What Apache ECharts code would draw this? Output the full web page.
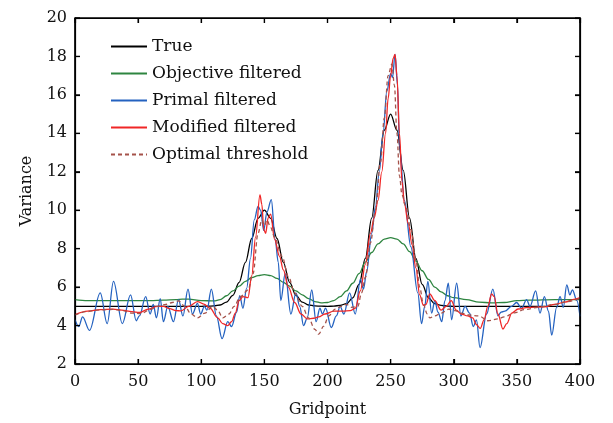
<!DOCTYPE html>
<html>
<head>
<meta charset="utf-8">
<script src="https://cdn.jsdelivr.net/npm/echarts@6/dist/echarts.min.js"></script>
<style>html,body{margin:0;padding:0;background:#fff}.c{width:613px;height:423px}</style>
</head>
<body>
<div class="c" id="main"></div>
<script>
// ---- data (gridpoint, variance) ----
const xTicks = [0, 50, 100, 150, 200, 250, 300, 350, 400];
const yTicks = [2, 4, 6, 8, 10, 12, 14, 16, 18, 20];
const seriesNames = ['True', 'Objective filtered', 'Primal filtered', 'Modified filtered', 'Optimal threshold'];

const trueX = [0,50,90,100,105,110,115,120,125,130,135,140,145,150,155,160,165,170,175,180,185,190,195,200,205,210,215,220,225,230,235,240,245,250,255,260,265,270,275,280,285,290,295,300,350,400];
const trueY = [5,5,5,5,5.01,5.02,5.07,5.22,5.57,6.25,7.29,8.53,9.58,10,9.58,8.53,7.29,6.25,5.57,5.22,5.07,5.02,5.01,5,5.01,5.05,5.14,5.44,6.14,7.5,9.59,12.07,14.16,15,14.16,12.07,9.59,7.5,6.14,5.44,5.14,5.05,5.01,5,5,5];

const objX = [0,10,20,40,60,70,80,85,90,100,110,115,120,125,130,135,140,145,150,155,160,165,170,175,180,185,190,195,200,205,210,215,220,225,230,235,240,245,250,255,260,265,270,275,280,285,290,295,300,310,320,330,340,350,360,380,400];
const objY = [5.35,5.3,5.3,5.3,5.3,5.32,5.35,5.38,5.37,5.3,5.28,5.35,5.55,5.8,6.05,6.3,6.5,6.6,6.65,6.6,6.45,6.25,6.05,5.8,5.6,5.4,5.25,5.18,5.2,5.3,5.5,5.8,6.2,6.7,7.3,7.8,8.25,8.5,8.57,8.5,8.25,7.85,7.35,6.85,6.4,6.0,5.75,5.55,5.45,5.35,5.22,5.18,5.2,5.3,5.32,5.35,5.35];

const primalX = [0,3,6,11.5,20,25.5,30.5,37.5,44,48.5,51,56,59.5,62,64.5,67.5,70,73.5,78,82,85.5,89.5,93,97,99.5,102.5,104.5,108,112,116.5,121,124,128,130.5,133,136,139,142,145,147,149.5,152,155.5,158.5,161,163,166.5,171,175,178,181,184,187.5,191,194,196,198.5,203,207,210,213,217.5,222,226,228.5,231,235,238,241,244,247,250,251.5,253.5,255.5,257,261,266,271.5,274.5,277,279.5,282.5,285,287.5,290.5,293,295.7,298.3,302.3,305.7,309,312.5,315.5,318,320.8,326,331,335,337.5,340.5,345.8,349.8,353.7,357.7,360.4,364.9,368.3,371.8,375,377.6,381.5,384.2,386.8,389.5,392,394,397.5,400];
const primalY = [4.3,3.95,4.45,3.75,5.7,4.1,6.3,4.1,5.6,4.25,4.5,5.5,4.6,5.1,4.4,5.4,4.2,5.0,4.2,5.35,4.5,5.9,4.6,5.15,4.6,5.0,4.8,5.9,4.5,3.32,4.2,3.95,4.7,5.55,4.9,5.95,7.5,9.5,10.2,10.0,8.95,9.9,10.55,8.5,7.3,5.3,6.7,4.6,5.7,5.0,4.0,4.4,5.85,4.2,4.9,4.6,4.9,3.9,4.5,5.0,4.6,5.7,4.6,6.4,5.9,6.8,8.8,10.2,12.0,14.0,16.2,17.1,16.9,18.1,16.5,13.3,10.5,8.1,5.7,4.1,5.0,6.3,4.65,5.3,4.7,4.2,5.3,6.2,4.3,6.2,4.5,5.0,4.65,3.95,4.3,2.85,4.6,5.9,4.5,4.7,4.75,5.0,5.2,4.9,5.35,5.0,5.8,4.65,5.5,4.75,3.5,4.95,5.5,4.95,6.12,5.6,5.86,5.3,4.48];

const modX = [0,10,20,30,37,45,51,58,65,70,75,80,84,90,97,102,107,113,117,121,124,127,130,133,137,140,143,146.5,148,149.5,151,153,155,158,162,165,169,174,179,184,189,193,198,205,212,218,222,226,230,234,237,240,243,246,248,250,252,253.5,255,257,259,261,264,267,270,273,276,278,281,285,290,294,298,302,306,311,315,318,321,324,327,330,332,335,339,342,346,351,359,372,380,388,396,400];
const modY = [4.57,4.75,4.83,4.85,4.8,4.72,4.68,4.85,5.0,5.0,4.88,4.78,4.76,5.0,5.25,5.12,4.9,4.4,4.1,4.0,4.2,4.65,5.3,5.5,5.45,6.6,8.6,10.8,10.3,9.0,8.8,9.6,9.8,8.5,7.6,6.9,6.0,5.2,4.6,4.35,4.38,4.45,4.6,4.75,4.75,4.78,4.9,5.8,7.2,8.8,9.6,10.5,12.0,14.0,15.8,17.0,17.9,18.1,17.0,14.0,11.5,10.3,9.3,8.2,7.0,5.6,5.05,5.1,5.65,5.3,4.8,5.0,5.3,4.8,4.6,4.5,4.4,4.05,3.85,4.3,5.0,5.65,5.5,4.6,3.82,4.1,4.65,4.86,4.95,4.97,5.1,5.22,5.38,5.45];

const optX = [0,10,20,30,37,45,52,60,66,72,77,82,87,92,97,103,109,113,117,122,126,131,137,141,145,148,150,152,155,158,164,169,174,180,185,190,193,197,201,206,211,215,219,224,227,230,234,238,242,245,248,251,253,255,257,259,262,266,270,273,276,279,281,285,290,296,301,306,312,320,327,335,340,348,356,367,380,390,400];
const optY = [4.55,4.73,4.82,4.84,4.78,4.65,4.62,4.85,5.0,5.1,5.2,5.28,5.0,4.6,4.4,4.65,5.0,4.8,4.4,4.6,5.0,5.5,5.85,6.7,8.8,9.5,9.2,9.5,9.1,8.6,7.6,6.55,5.7,5.0,4.4,3.8,3.55,3.97,4.5,4.85,5.0,5.1,4.95,5.0,5.7,6.5,8.3,10.0,12.5,14.8,17.0,17.6,16.5,14.0,11.8,10.8,10.2,9.0,7.4,6.0,5.1,4.6,4.4,4.5,4.65,4.85,4.78,4.65,4.55,4.5,4.25,4.35,4.45,4.66,4.83,4.95,5.1,5.25,5.42];

function pairs(xs, ys) { return xs.map((x, i) => [x, ys[i]]); }

const FONT = 'DejaVu Serif';

function axisCommon() {
  return {
    axisLine: { show: true, onZero: false, lineStyle: { color: '#000', width: 1.2 } },
    axisTick: { show: true, inside: true, length: 5, lineStyle: { color: '#000', width: 1.2 } },
    splitLine: { show: false }
  };
}

function mkSeries(name, data, color, extra) {
  return Object.assign({
    name: name, type: 'line', data: data, symbol: 'none', showSymbol: false,
    smooth: 0.35, smoothMonotone: 'x',
    xAxisIndex: 0, yAxisIndex: 0,
    lineStyle: { color: color, width: 1.3 }, itemStyle: { color: color },
    animation: false
  }, extra || {});
}

const option = {
  animation: false,
  backgroundColor: '#fff',
  grid: { left: 75, right: 33, top: 18, bottom: 56, show: true, borderColor: '#000', borderWidth: 1.2 },
  legend: {
    show: true, orient: 'vertical', left: 105, top: 33,
    itemWidth: 36, itemHeight: 14, itemGap: 10,
    itemStyle: { opacity: 0 },
    textStyle: { fontFamily: FONT, fontSize: 17, color: '#111', lineHeight: 17 },
    data: seriesNames
  },
  xAxis: [
    Object.assign(axisCommon(), {
      type: 'value', min: 0, max: 400, interval: 50, position: 'bottom',
      name: 'Gridpoint', nameLocation: 'middle', nameGap: 38,
      nameTextStyle: { fontFamily: FONT, fontSize: 16, color: '#111' },
      axisLabel: { fontFamily: FONT, fontSize: 16, color: '#111', margin: 10 }
    }),
    Object.assign(axisCommon(), {
      type: 'value', min: 0, max: 400, interval: 50, position: 'top',
      axisLabel: { show: false }
    })
  ],
  yAxis: [
    Object.assign(axisCommon(), {
      type: 'value', min: 2, max: 20, interval: 2, position: 'left',
      name: 'Variance', nameLocation: 'middle', nameGap: 40, nameRotate: 90,
      nameTextStyle: { fontFamily: FONT, fontSize: 16, color: '#111' },
      axisLabel: { fontFamily: FONT, fontSize: 16, color: '#111', margin: 8 }
    }),
    Object.assign(axisCommon(), {
      type: 'value', min: 2, max: 20, interval: 2, position: 'right',
      axisLabel: { show: false }
    })
  ],
  series: [
    mkSeries(seriesNames[0], pairs(trueX, trueY), '#000000', { xAxisIndex: 1, yAxisIndex: 1 }),
    mkSeries(seriesNames[1], pairs(objX, objY), '#2e8540'),
    mkSeries(seriesNames[2], pairs(primalX, primalY), '#2462c0'),
    mkSeries(seriesNames[3], pairs(modX, modY), '#f02626'),
    mkSeries(seriesNames[4], pairs(optX, optY), '#a5524a', { lineStyle: { color: '#a5524a', width: 1.3, type: [4, 3] } })
  ]
};

const chart = echarts.init(document.getElementById('main'));
chart.setOption(option);

// Frame and mirrored ticks, placed through the chart's own scales
(function () {
  const finder = { xAxisIndex: 0, yAxisIndex: 0 };
  const p0 = chart.convertToPixel(finder, [xTicks[0], yTicks[0]]);
  const p1 = chart.convertToPixel(finder, [xTicks[xTicks.length - 1], yTicks[yTicks.length - 1]]);
  if (!p0 || !p1) return;
  const L = p0[0], B = p0[1], R = p1[0], T = p1[1];
  const st = { stroke: '#000', lineWidth: 1.2 };
  const g = [{ type: 'rect', shape: { x: L, y: T, width: R - L, height: B - T }, style: { fill: null, stroke: '#000', lineWidth: 1.2 }, silent: true, z: 100 }];
  xTicks.forEach(function (v) {
    const x = chart.convertToPixel(finder, [v, yTicks[0]])[0];
    g.push({ type: 'line', shape: { x1: x, y1: T, x2: x, y2: T + 5 }, style: st, silent: true, z: 100 });
    g.push({ type: 'line', shape: { x1: x, y1: B, x2: x, y2: B - 5 }, style: st, silent: true, z: 100 });
  });
  yTicks.forEach(function (v) {
    const y = chart.convertToPixel(finder, [xTicks[0], v])[1];
    g.push({ type: 'line', shape: { x1: L, y1: y, x2: L + 5, y2: y }, style: st, silent: true, z: 100 });
    g.push({ type: 'line', shape: { x1: R, y1: y, x2: R - 5, y2: y }, style: st, silent: true, z: 100 });
  });
  chart.setOption({ graphic: g });
})();
</script>
</body>
</html>
